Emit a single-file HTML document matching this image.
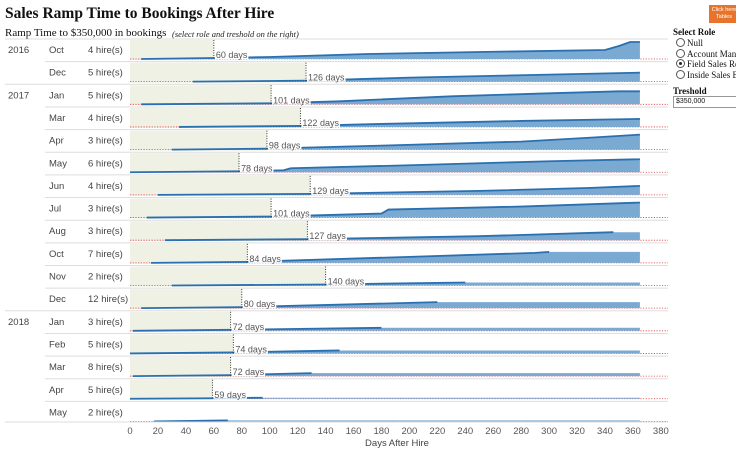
<!DOCTYPE html>
<html><head><meta charset="utf-8">
<style>
body{margin:0;width:736px;height:454px;overflow:hidden;background:#fff;font-family:"Liberation Sans",sans-serif;position:relative}
.t{position:absolute;white-space:nowrap}
</style></head>
<body>
<div class="t" style="left:5px;top:5px;font:bold 15.5px 'Liberation Serif',serif;color:#111">Sales Ramp Time to Bookings After Hire</div>
<div class="t" style="left:5px;top:27px;font:11px 'Liberation Serif',serif;color:#111">Ramp Time to $350,000 in bookings</div>
<div class="t" style="left:172px;top:29px;font:italic 8.5px 'Liberation Serif',serif;color:#222">(select role and treshold on the right)</div>
<div class="t" style="left:709px;top:5px;width:30px;height:18px;background:#e8732a;color:#fff;font-size:5.5px;text-align:center;line-height:7px;padding-top:2px;box-sizing:border-box">Click here<br>Tables</div>
<div class="t" style="left:673px;top:27px;font:bold 9px 'Liberation Serif',serif;color:#111">Select Role</div>
<div id="radios"></div>
<div class="t" style="left:673px;top:86px;font:bold 9px 'Liberation Serif',serif;color:#111">Treshold</div>
<div class="t" style="left:673px;top:96px;width:70px;height:10px;border:1px solid #999;font-size:7px;line-height:10px;padding-left:2px;color:#111">$350,000</div>
<svg id="chart" width="736" height="454" style="position:absolute;left:0;top:0"></svg>
<script>
const years=["2016","","2017","","","","","","","","","","2018","","","",""];
const months=["Oct","Dec","Jan","Mar","Apr","May","Jun","Jul","Aug","Oct","Nov","Dec","Jan","Feb","Mar","Apr","May"];
const hires=[4,5,5,4,3,6,4,3,3,7,2,12,3,5,8,5,2];
const rampDays=[60,126,101,122,98,78,129,101,127,84,140,80,72,74,72,59,null];
const series=[
[[8,0],[60,20],[100,40],[170,100],[250,140],[340,180],[350,260],[358,340],[365,340]],
[[45,0],[126,20],[200,80],[300,140],[365,180]],
[[8,0],[101,20],[150,60],[230,160],[300,220],[350,260],[365,260]],
[[35,0],[122,20],[180,60],[280,120],[365,160]],
[[30,0],[98,20],[180,80],[280,160],[330,240],[365,300]],
[[0,0],[78,20],[110,40],[115,80],[200,140],[300,220],[365,260]],
[[20,0],[129,20],[250,80],[330,140],[365,180]],
[[12,0],[101,20],[180,80],[185,160],[280,220],[365,300]],
[[25,0],[127,20],[250,80],[346,160]],
[[15,0],[84,20],[200,120],[290,200],[300,220]],
[[30,0],[140,20],[240,60]],
[[8,0],[80,20],[220,120]],
[[2,0],[72,20],[180,60]],
[[0,0],[74,20],[150,60]],
[[2,0],[72,20],[130,60]],
[[0,0],[59,10],[95,20]],
[[17,0],[70,20]]];
const xTicks=[0,20,40,60,80,100,120,140,160,180,200,220,240,260,280,300,320,340,360,380];
const endDay=365;

const NS="http://www.w3.org/2000/svg";
const svg=document.getElementById('chart');
const x=d=>130+d*1.397;
const rowTop=i=>39+i*22.65;
const y=(i,v)=>rowTop(i)+20-v/20;
function mk(tag,attrs,parent){const e=document.createElementNS(NS,tag);for(const k in attrs)e.setAttribute(k,attrs[k]);(parent||svg).appendChild(e);return e;}

months.forEach((m,i)=>{
  const g=mk('g',{});
  
  
  const top=rowTop(i),base=top+20;
  const sep=mk('line',{x1:(i==0||i==2||i==12)?5:45,x2:668,y1:top,y2:top,stroke:'#ddd','stroke-width':1},g);
  
  
  if(rampDays[i]!=null){
    const r=mk('rect',{x:130,y:top+1,width:x(rampDays[i])-130,height:20,fill:'#eef1e3'},g);
    
    
  }
  const red=mk('line',{x1:130,x2:668,y1:base,y2:base,stroke:'#e04040','stroke-width':0.8,'stroke-dasharray':'1.2,1.5'},g);
  
  
  const s=series[i];const last=s[s.length-1];
  let d='M'+x(s[0][0])+','+base;
  s.forEach(p=>d+=' L'+x(p[0])+','+y(i,p[1]));
  d+=' L'+x(endDay)+','+y(i,last[1])+' L'+x(endDay)+','+base+' Z';
  const a=mk('path',{d:d,fill:'#7aa9d2'},g);
  
  
  const ln=mk('polyline',{points:s.map(p=>x(p[0])+','+y(i,p[1])).join(' '),fill:'none',stroke:'#2a70b0','stroke-width':1.8},g);
  
  
  if(rampDays[i]!=null){
    const rx=x(rampDays[i]);
    const bg=mk('rect',{x:rx+1,y:base-9,width:10,height:9,fill:'#fff'},g);
    
    
    const v=mk('line',{x1:rx,x2:rx,y1:top+1,y2:base,stroke:'#333','stroke-width':1,'stroke-dasharray':'1,1.5'},g);
    
    
    const t=mk('text',{x:rx+2,y:base-1,'font-size':9,fill:'#555','font-family':'Liberation Sans, sans-serif'},g);
    t.textContent=rampDays[i]+' days';
    
    
    bg.setAttribute('width',t.getComputedTextLength()+2);
  }
  [[8,years[i],'year-label'],[49,m,'month-label'],[88,hires[i]+' hire(s)','hires-label']].forEach(([lx,txt,nm])=>{
    if(!txt)return;
    const t=mk('text',{x:lx,y:top+14,'font-size':9.5,fill:'#444','font-family':'Liberation Sans, sans-serif'},g);
    t.textContent=txt;
    
    
  });
});
const bl=mk('line',{x1:5,x2:668,y1:422,y2:422,stroke:'#ddd'});


xTicks.forEach(v=>{
  const t=mk('text',{x:x(v),y:434,'font-size':9.5,fill:'#555','text-anchor':'middle','font-family':'Liberation Sans, sans-serif'});
  t.textContent=v;
  
  
});
const xt=mk('text',{x:397,y:446,'font-size':9.5,fill:'#444','text-anchor':'middle','font-family':'Liberation Sans, sans-serif'});
xt.textContent='Days After Hire';



const roles=["Null","Account Manager","Field Sales Rep","Inside Sales Exec"];
const rd=document.getElementById('radios');
roles.forEach((r,i)=>{
  const d=document.createElement('div');
  d.className='t';
  d.style.cssText='left:676px;top:'+(38+i*10.5)+'px;font:9px "Liberation Serif",serif;color:#111';
  d.innerHTML='<span style="display:inline-block;width:7px;height:7px;border:1px solid #555;border-radius:50%;vertical-align:-1px;margin-right:2px;position:relative">'+(i==2?'<span style="position:absolute;left:2px;top:2px;width:3px;height:3px;border-radius:50%;background:#222"></span>':'')+'</span>'+r;
  
  
  rd.appendChild(d);
});
</script>
</body></html>
